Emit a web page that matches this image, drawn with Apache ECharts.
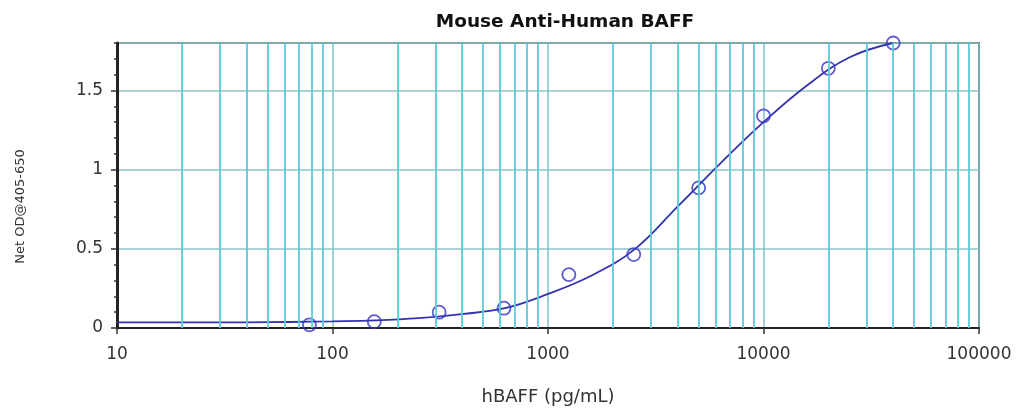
<!DOCTYPE html>
<html>
<head>
<meta charset="utf-8">
<title>Mouse Anti-Human BAFF</title>
<script src="https://cdn.jsdelivr.net/npm/echarts@6/dist/echarts.min.js"></script>
<style>
  html, body { margin: 0; padding: 0; background: #fff; }
  #chart { width: 1018px; height: 413px; }
</style>
</head>
<body>
<div id="chart"></div>
<script>
  // standard points (pg/mL -> net OD)
  var stdConc = [78.125, 156.25, 312.5, 625, 1250, 2500, 5000, 10000, 20000, 40000]
  var stdOD = [0.02, 0.04, 0.10, 0.125, 0.337, 0.464, 0.885, 1.34, 1.64, 1.80]

  // fitted curve (about every 0.2 decade)
  var fitConc = [10, 15.8, 25.1, 39.8, 63.1, 100, 158, 251, 398, 631, 1000, 1585, 2512, 3981, 6310, 10000, 15849, 25119, 39811]
  var fitOD = [0.035, 0.035, 0.035, 0.036, 0.038, 0.042, 0.048, 0.062, 0.088, 0.125, 0.215, 0.33, 0.495, 0.765, 1.04, 1.30, 1.53, 1.71, 1.80]

  var decades = [10, 100, 1000, 10000]
  var minorVals = []
  decades.forEach(function (d) {
    for (var k = 2; k <= 9; k++) minorVals.push(d * k)
  })

  var chart = echarts.init(document.getElementById('chart'))
  var font = 'DejaVu Sans'

  var option = {
    animation: false,
    graphic: [{
      type: 'text',
      x: 565,
      y: 22,
      style: {
        text: 'Mouse Anti-Human BAFF',
        font: 'bold 18.5px "DejaVu Sans"',
        fill: '#111',
        align: 'center',
        verticalAlign: 'middle'
      }
    }],
    grid: {
      left: 117,
      right: 39,
      top: 43,
      bottom: 85,
      show: true,
      borderColor: '#555',
      borderWidth: 2,
      backgroundColor: '#fff'
    },
    xAxis: {
      type: 'log',
      logBase: 10,
      min: 10,
      max: 100000,
      name: 'hBAFF (pg/mL)',
      nameLocation: 'middle',
      nameGap: 60,
      nameTextStyle: { fontFamily: font, fontSize: 18, color: '#333' },
      axisLine: { onZero: false, lineStyle: { color: '#222', width: 2 } },
      axisTick: { show: true, length: 6, lineStyle: { color: '#333', width: 1.5 } },
      axisLabel: {
        fontFamily: font, fontSize: 17, color: '#333', margin: 18,
        formatter: function (v) { return String(Math.round(v)) }
      },
      splitLine: { show: true, lineStyle: { color: '#7fc2cb', width: 1.5 } }
    },
    yAxis: [{
      type: 'value',
      min: 0,
      max: 1.8,
      interval: 0.5,
      name: 'Net OD@405-650',
      nameLocation: 'middle',
      nameGap: 90,
      nameRotate: 90,
      nameTextStyle: { fontFamily: font, fontSize: 13, color: '#333', padding: [0, 42, 0, 0] },
      axisLine: { show: true, onZero: false, lineStyle: { color: '#222', width: 3 } },
      axisTick: { show: true, length: 6, lineStyle: { color: '#333', width: 1.5 } },
      axisLabel: { fontFamily: font, fontSize: 17, color: '#333', margin: 14, showMaxLabel: false },
      splitLine: { show: true, lineStyle: { color: '#8cc4c9', width: 1.5 } }
    }, {
      type: 'value',
      position: 'left',
      min: 0,
      max: 1.8,
      interval: 0.1,
      axisLine: { show: false },
      axisTick: { show: true, length: 3, lineStyle: { color: '#333', width: 1.5 } },
      axisLabel: { show: false },
      splitLine: { show: false }
    }],
    series: [
      {
        // minor log grid lines + little ticks under the axis
        type: 'line',
        data: [],
        silent: true,
        clip: false,
        markLine: {
          silent: true,
          symbol: 'none',
          label: { show: false },
          animation: false,
          data: minorVals.map(function (v) {
            return { xAxis: v, lineStyle: { color: '#5ccadb', width: 1.8, type: 'solid' } }
          }).concat(minorVals.map(function (v) {
            return [
              { coord: [v, 0], lineStyle: { color: '#333', width: 1.2, type: 'solid' } },
              { coord: [v, -0.028] }
            ]
          }))
        }
      },
      {
        name: 'fit',
        type: 'line',
        data: fitConc.map(function (c, i) { return [c, fitOD[i]] }),
        smooth: 0.4,
        showSymbol: false,
        clip: false,
        lineStyle: { color: '#3333b0', width: 1.8 },
        z: 3
      },
      {
        name: 'standards',
        type: 'scatter',
        data: stdConc.map(function (c, i) { return [c, stdOD[i]] }),
        symbol: 'circle',
        symbolSize: 13,
        clip: false,
        itemStyle: { color: 'rgba(0,0,0,0)', borderColor: '#3636c4', borderWidth: 1.8 },
        z: 4
      }
    ]
  }

  chart.setOption(option)
</script>
</body>
</html>
